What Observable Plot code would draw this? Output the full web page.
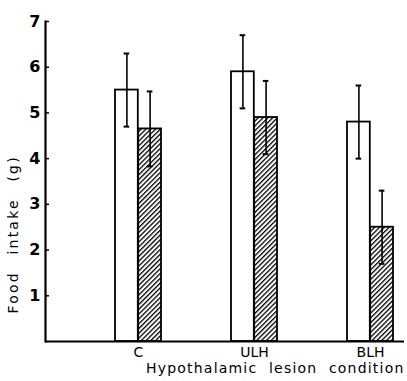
<!DOCTYPE html>
<html><head><meta charset="utf-8">
<script src="https://cdn.jsdelivr.net/npm/d3@7"></script>
<script src="https://cdn.jsdelivr.net/npm/@observablehq/plot@0.6"></script>
<style>body{margin:0;background:#fff}</style>
</head><body><div id="chart"></div>
<script>
const groups = ["C", "ULH", "BLH"];
const openMeans = [5.5, 5.9, 4.8];
const openErrs = [0.8, 0.8, 0.8];
const hatchedMeans = [4.65, 4.9, 2.5];
const hatchedErrs = [0.82, 0.8, 0.8];
const yTicks = [1, 2, 3, 4, 5, 6, 7];
const xTitle = "Hypothalamic lesion condition";
const yTitle = "Food intake (g)";

const openData = groups.map((g, i) => ({group: g, value: openMeans[i], lo: openMeans[i] - openErrs[i], hi: openMeans[i] + openErrs[i]}));
const hatchedData = groups.map((g, i) => ({group: g, value: hatchedMeans[i], lo: hatchedMeans[i] - hatchedErrs[i], hi: hatchedMeans[i] + hatchedErrs[i]}));

const step = 116, bw = step * 0.4, half = bw / 2, off = bw / 4, cap = 3;

const chart = Plot.plot({
  width: 407, height: 381,
  marginLeft: 45, marginRight: 3, marginTop: 21, marginBottom: 40,
  style: {fontFamily: "'DejaVu Sans', sans-serif", background: "white", color: "black", overflow: "visible"},
  x: {domain: groups, range: [115, 115 + 2.4 * step], paddingInner: 0.6, paddingOuter: 0},
  y: {domain: [0, 7]},
  marks: [
    Plot.barY(openData, {x: "group", y: "value", fill: "white", stroke: "black", strokeWidth: 1.8, insetRight: half}),
    Plot.barY(hatchedData, {x: "group", y: "value", fill: "url(#hatch)", stroke: "black", strokeWidth: 1.8, insetLeft: half}),
    Plot.ruleX(openData, {x: "group", y1: "lo", y2: "hi", dx: -off, strokeWidth: 1.6}),
    Plot.tickY(openData, {x: "group", y: "hi", insetLeft: off - cap, insetRight: bw - off - cap, strokeWidth: 2}),
    Plot.tickY(openData, {x: "group", y: "lo", insetLeft: off - cap, insetRight: bw - off - cap, strokeWidth: 2}),
    Plot.ruleX(hatchedData, {x: "group", y1: "lo", y2: "hi", dx: off, strokeWidth: 1.6}),
    Plot.tickY(hatchedData, {x: "group", y: "hi", insetLeft: bw - off - cap, insetRight: off - cap, strokeWidth: 2}),
    Plot.tickY(hatchedData, {x: "group", y: "lo", insetLeft: bw - off - cap, insetRight: off - cap, strokeWidth: 2}),
    Plot.ruleY([0], {strokeWidth: 2}),
    Plot.frame({anchor: "left", strokeWidth: 2.2}),
    Plot.axisY({ticks: yTicks, tickSize: -4, tickPadding: 9, fontSize: 16, fontWeight: "bold", tickFormat: d => String(d), strokeWidth: 1.5, label: null}),
    Plot.axisX({tickSize: 0, tickPadding: 6, fontSize: 14, label: null}),
    Plot.text([xTitle], {frameAnchor: "bottom-right", dy: 31, textAnchor: "end", fontSize: 14}),
    Plot.text([yTitle], {frameAnchor: "bottom-left", textAnchor: "start", dx: -28, dy: -28, rotate: -90, fontSize: 14})
  ]
});

chart.insertAdjacentHTML("afterbegin",
  `<defs><pattern id="hatch" patternUnits="userSpaceOnUse" width="3.4" height="3.4" patternTransform="rotate(45)">
     <rect width="3.4" height="3.4" fill="white"/>
     <line x1="0" y1="0" x2="0" y2="3.4" stroke="black" stroke-width="2.6"/>
   </pattern></defs>`);

d3.select(chart).selectAll("text").each(function() {
  const t = this.textContent;
  if (t === xTitle) { this.style.letterSpacing = "1.2px"; this.style.wordSpacing = "6px"; }
  if (t === yTitle) { this.style.letterSpacing = "2.2px"; this.style.wordSpacing = "10px"; }
});

document.getElementById("chart").append(chart);
</script>
</body></html>
